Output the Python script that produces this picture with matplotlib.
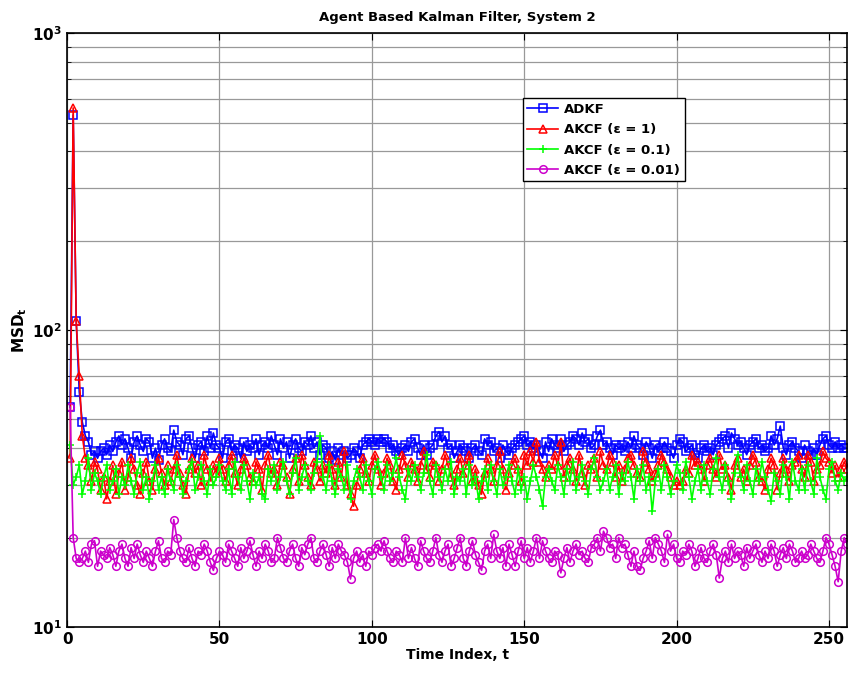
import matplotlib
matplotlib.use("Agg")
import matplotlib.pyplot as plt
import numpy as np

# values, t = 1..256
adkf = [55, 530, 107, 62, 49, 44, 42, 38, 39, 37, 39, 40, 38, 41, 39, 42,
        44, 41, 43, 40, 37, 42, 44, 41, 39, 43, 42, 37, 40, 36.5, 41, 43,
        40, 39, 46, 42, 41, 38, 43, 44, 40, 37, 41, 42, 39, 44, 40, 45,
        41, 40, 37, 42, 43, 39, 41, 40, 37, 42, 39, 41, 40, 43, 38, 41,
        42, 40, 44, 41, 38, 43, 40, 42, 37, 41, 43, 40, 39, 42, 41, 44,
        40, 42, 38, 41, 40, 37, 39, 36.5, 40, 38, 39, 37, 38, 40, 39, 37,
        41, 42, 43, 42, 41, 43, 42, 43, 42, 40, 41, 39, 38, 40, 41, 39,
        42, 43, 40, 38, 41, 38, 40, 41, 44, 45.5, 42, 44, 40, 41, 37, 39,
        41, 40, 39, 37, 40, 41, 39, 38, 43, 41, 42, 39, 40, 37, 41, 39,
        38, 40, 41, 42, 43, 44, 41, 42, 40, 41, 39, 37, 42, 39, 43, 41,
        40, 43, 39, 41, 42, 44, 43, 41, 45, 42, 43, 40, 41, 44, 46, 41,
        42, 40, 38, 41, 40, 41, 39, 42, 40, 44, 41, 40, 38, 42, 40, 37,
        41, 39, 40, 42, 40, 39, 37, 41, 43, 42, 39, 40, 41, 38, 37, 40,
        41, 39, 40, 38, 41, 42, 43, 44, 40, 45, 43, 41, 42, 40, 38, 41,
        42, 43, 40, 41, 39, 40, 44, 41, 43, 47.5, 40, 38, 41, 42, 40, 39,
        37, 41, 39, 38, 40, 38, 41, 43, 44, 41, 40, 42, 40, 41, 40, 40]

akcf_1 = [37, 560, 107, 70, 44, 37, 35, 31, 36, 34, 29, 32, 27, 31, 35, 28,
          33, 36, 29, 32, 37, 34, 30, 28, 33, 36, 31, 29, 34, 37, 33, 30,
          35, 31, 34, 38, 33, 30, 28, 34, 37, 33, 35, 30, 38, 34, 31, 35,
          33, 37, 34, 31, 35, 38, 33, 30, 34, 37, 35, 32, 31, 36, 34, 29,
          35, 38, 33, 34, 30, 36, 35, 32, 28, 34, 37, 31, 38, 35, 32, 30,
          36, 34, 31, 35, 33, 38, 34, 30, 36, 32, 39, 30, 28, 25.5, 30, 34,
          37, 33, 31, 35, 38, 34, 30, 33, 37, 35, 31, 29, 34, 38, 35, 32,
          36, 34, 31, 35, 39, 34, 32, 36, 35, 31, 34, 38, 35, 32, 30, 34,
          37, 33, 35, 38, 31, 34, 30, 28, 33, 37, 34, 31, 35, 39, 34, 29,
          33, 35, 37, 34, 31, 38, 35, 39, 36, 42, 36, 34, 32, 35, 34, 38,
          35, 42, 32, 35, 37, 34, 31, 38, 33, 30, 35, 34, 37, 32, 39, 35,
          34, 38, 36, 32, 35, 31, 34, 37, 38, 35, 33, 32, 39, 36, 34, 31,
          33, 35, 38, 36, 34, 32, 30, 31, 30, 31, 34, 33, 38, 35, 36, 34,
          31, 35, 37, 34, 32, 38, 34, 35, 32, 29, 35, 37, 32, 34, 31, 35,
          38, 36, 32, 31, 29, 34, 37, 35, 29, 33, 37, 34, 31, 35, 36, 38,
          34, 32, 38, 36, 31, 34, 35, 39, 37, 36, 33, 35, 32, 34, 36, 34]

akcf_01 = [41, 30, 32, 35, 28, 31, 37, 29, 33, 31, 28, 32, 35, 29, 31, 34,
           28, 32, 30, 35, 31, 28, 33, 36, 29, 32, 27, 31, 35, 29, 32, 28,
           34, 31, 29, 35, 32, 28, 31, 34, 36, 29, 32, 35, 31, 28, 34, 30,
           32, 35, 31, 29, 34, 28, 36, 32, 29, 35, 31, 27, 33, 30, 32, 28,
           27, 34, 31, 35, 29, 32, 36, 31, 28, 33, 37, 29, 32, 35, 31, 29,
           33, 36, 44, 32, 29, 35, 31, 28, 34, 32, 29, 35, 27, 31, 34, 32,
           29, 35, 31, 28, 34, 36, 32, 29, 35, 31, 33, 37, 32, 29, 27, 34,
           31, 35, 32, 29, 33, 38, 31, 28, 35, 32, 29, 34, 31, 36, 28, 32,
           31, 34, 28, 35, 30, 32, 27, 31, 34, 29, 35, 31, 28, 34, 30, 32,
           35, 31, 28, 34, 29, 32, 27, 31, 35, 32, 29, 25.5, 32, 34, 31, 29,
           35, 32, 28, 34, 31, 36, 29, 32, 35, 31, 28, 34, 37, 32, 29, 31,
           34, 29, 32, 35, 28, 33, 31, 36, 32, 27, 34, 31, 35, 29, 32, 24.5,
           31, 34, 29, 35, 32, 28, 31, 35, 33, 29, 36, 32, 27, 31, 34, 29,
           35, 31, 28, 34, 37, 32, 29, 35, 31, 27, 33, 38, 32, 29, 35, 31,
           28, 34, 31, 36, 32, 29, 26.5, 33, 31, 28, 35, 32, 27, 36, 31, 29,
           34, 29, 35, 31, 28, 37, 32, 29, 27, 34, 36, 31, 29, 33, 31, 32]

akcf_001 = [55, 20, 17, 16.5, 17, 18, 16.5, 19, 19.5, 16, 18, 17.5, 17, 18.5, 17.5, 16,
            18, 19, 17, 16, 18.5, 17, 19, 17.5, 16.5, 18, 17, 16, 18, 19.5, 17, 16.5,
            18, 17.5, 23, 20, 18, 17, 16.5, 18.5, 17, 16, 18, 17.5, 19, 18, 16.5, 15.5,
            17, 18, 17.5, 16.5, 19, 18, 17, 16, 18.5, 17, 18, 19.5, 17.5, 16, 18, 17,
            19, 18, 16.5, 17, 20, 18.5, 17, 16.5, 18, 19, 17, 16, 18.5, 17.5, 19, 20,
            17, 16.5, 18, 19, 17.5, 16, 18.5, 17, 19, 18, 17.5, 16.5, 14.5, 17, 18, 16.5,
            17.5, 16, 18, 17.5, 18.5, 19, 18, 19.5, 18, 17, 16.5, 18, 17.5, 16.5, 20, 17,
            18.5, 17, 16, 19.5, 18, 17, 16.5, 18, 20, 17.5, 16.5, 18, 19, 16, 17, 18.5,
            20, 17, 16, 18, 19.5, 17.5, 16.5, 15.5, 18, 19, 17, 20.5, 18, 17, 18.5, 16,
            19, 17.5, 16, 18, 19.5, 17, 18.5, 16.5, 18, 20, 17, 19.5, 18, 17, 16.5, 18,
            17.5, 15.2, 17, 18.5, 16.5, 18, 19, 17.5, 18, 17, 16.5, 18.5, 19, 20, 18, 21,
            20, 18.5, 19, 17, 20, 18.5, 19, 17.5, 16, 18, 16, 15.5, 17, 18, 19.5, 17,
            20, 19, 18, 16.5, 20.5, 18, 19, 17, 16.5, 18, 17.5, 19, 18, 16, 17, 18.5,
            17, 16.5, 18, 19, 17.5, 14.6, 17, 18, 16.5, 19, 17, 18, 17.5, 16, 18.5, 17,
            18, 19, 17.5, 16.5, 18, 17, 19, 18, 16, 17.5, 18.5, 17, 19, 18, 16.5, 17,
            18, 17, 17.5, 19, 18, 17, 16.5, 18, 20, 19, 17.5, 16, 14.2, 18, 20, 19]

t = np.arange(1, len(adkf) + 1)

plt.rcParams['font.family'] = 'DejaVu Sans'
plt.rcParams['font.weight'] = 'bold'

fig = plt.figure(figsize=(8.49, 6.77), dpi=100)
ax = fig.add_axes([0.079, 0.074, 0.919, 0.877])

ax.plot(t, adkf, color='#0000ff', lw=1.2, marker='s', ms=5.5, mfc='none', mew=1.1, label='ADKF')
ax.plot(t, akcf_1, color='#ff0000', lw=1.2, marker='^', ms=6, mfc='none', mew=1.1, label='AKCF (\u03b5 = 1)')
ax.plot(t, akcf_01, color='#00ff00', lw=1.2, marker='+', ms=6, mew=1.1, label='AKCF (\u03b5 = 0.1)')
ax.plot(t, akcf_001, color='#cc00cc', lw=1.2, marker='o', ms=5.5, mfc='none', mew=1.1, label='AKCF (\u03b5 = 0.01)')

ax.set_yscale('log')
ax.set_xlim(0, 256)
ax.set_ylim(10, 1000)
ax.set_xticks([0, 50, 100, 150, 200, 250])
ax.set_yticks([10, 100, 1000])
ax.set_yticklabels([r'$\mathbf{10^{1}}$', r'$\mathbf{10^{2}}$', r'$\mathbf{10^{3}}$'])
ax.tick_params(which='both', direction='in', top=True, right=True, labelsize=11)
ax.tick_params(which='major', length=5)
ax.tick_params(which='minor', length=3)

# matlab style grid, minor lines only on the log axis
ax.grid(True, which='major', color='0.6', linestyle='-', lw=0.9)
ax.grid(True, which='minor', axis='y', color='0.6', linestyle='-', lw=0.9)
ax.set_axisbelow(True)
for s in ax.spines.values():
    s.set_linewidth(1.2)

ax.set_title('Agent Based Kalman Filter, System 2', fontsize=9.5, fontweight='bold', pad=9)
ax.set_xlabel('Time Index, t', fontsize=10, fontweight='bold', labelpad=1)
ax.set_ylabel(r'$\mathbf{MSD_t}$', fontsize=11, labelpad=2)

leg = ax.legend(loc='upper left', bbox_to_anchor=(0.584, 0.89), fontsize=9.5, fancybox=False,
                framealpha=1, edgecolor='black', borderaxespad=0, handlelength=2.3,
                handletextpad=0.5, labelspacing=0.55, borderpad=0.35)
leg.get_frame().set_linewidth(1.0)

fig.savefig('out.png', dpi=100)
